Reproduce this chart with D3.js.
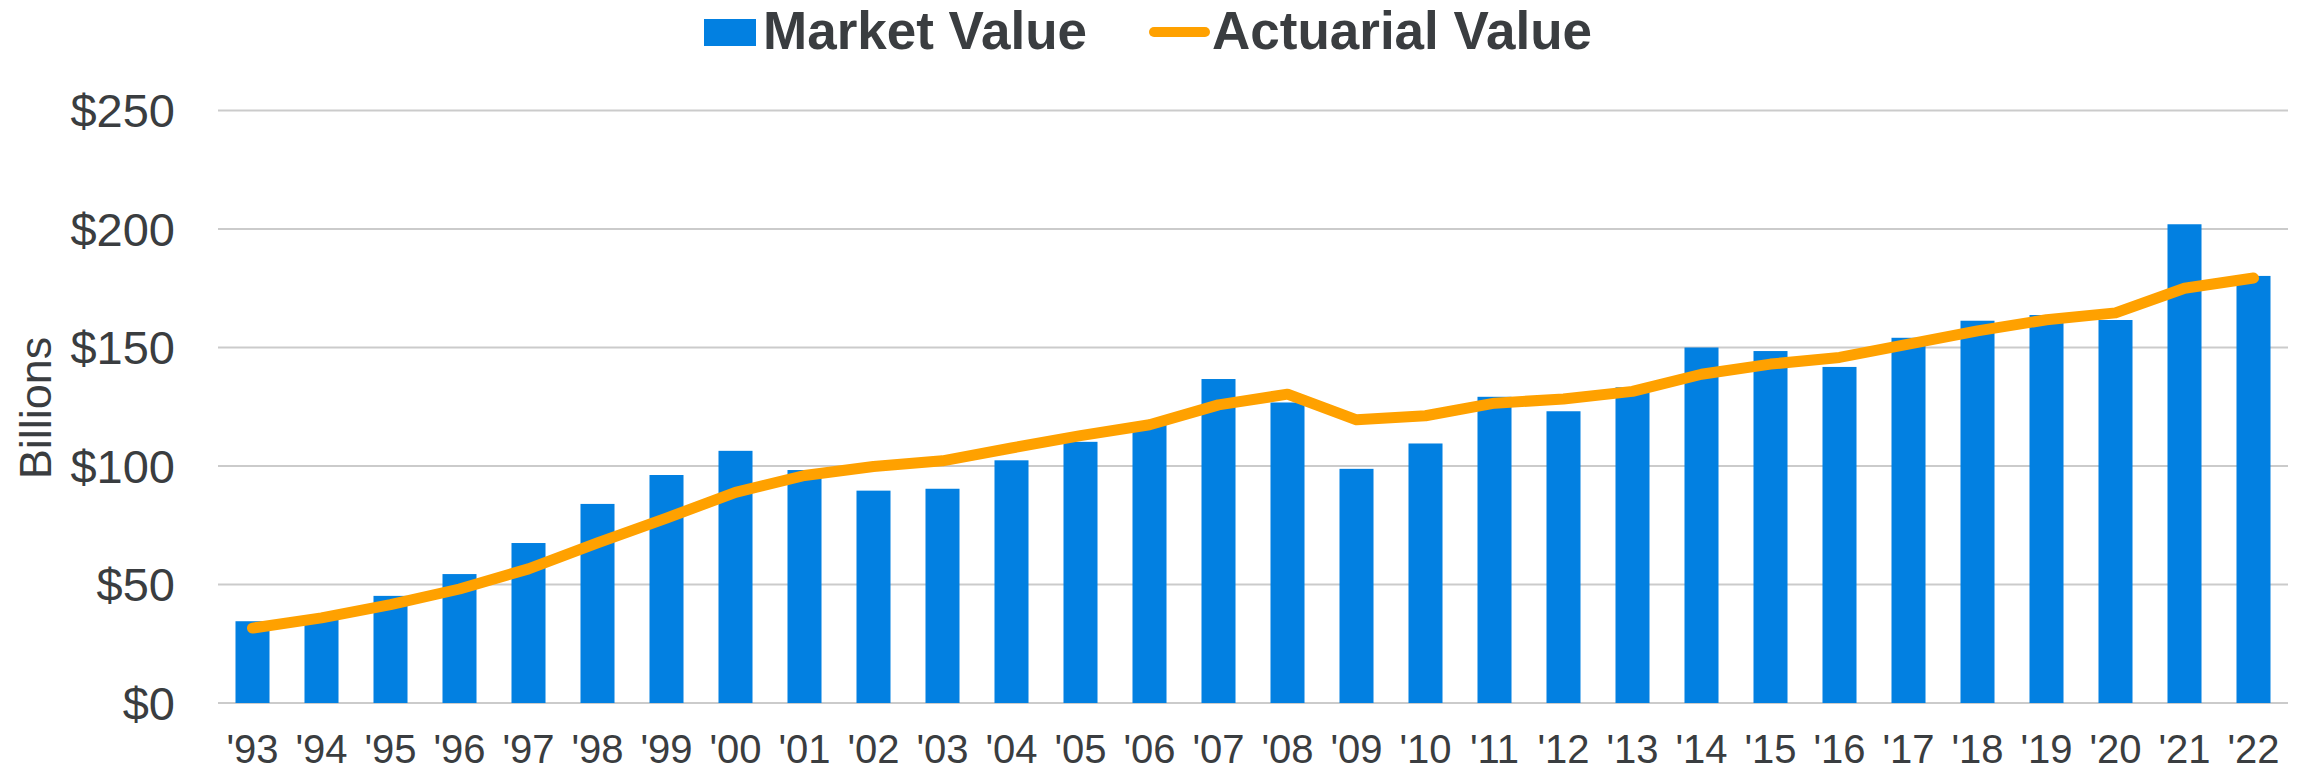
<!DOCTYPE html>
<html>
<head>
<meta charset="utf-8">
<script src="https://cdn.jsdelivr.net/npm/d3@7"></script>
<style>
  html, body { margin: 0; padding: 0; background: #fff; }
  svg { display: block; font-family: "Liberation Sans", Arial, sans-serif; }
</style>
</head>
<body>
<svg id="chart" width="2310" height="772"></svg>
<script>
const years = ["'93","'94","'95","'96","'97","'98","'99","'00","'01","'02","'03","'04","'05","'06","'07","'08","'09","'10","'11","'12","'13","'14","'15","'16","'17","'18","'19","'20","'21","'22"];
const marketValue = [34.5, 36, 45.2, 54.4, 67.5, 84.0, 96.2, 106.4, 98.3, 89.6, 90.4, 102.4, 110.2, 118.5, 136.7, 126.8, 98.8, 109.5, 129.2, 123.1, 133.2, 150.0, 148.5, 141.8, 154.1, 161.3, 163.7, 161.6, 202.0, 180.2];
const actuarialValue = [31.6, 35.9, 41.5, 48.1, 56.6, 67.6, 78.0, 88.9, 96.0, 99.8, 102.2, 107.6, 112.8, 117.4, 125.8, 130.3, 119.5, 121.2, 126.5, 128.3, 131.5, 138.7, 143.0, 145.8, 151.4, 157.0, 161.7, 164.6, 175.0, 179.3];
const yTicks = [0, 50, 100, 150, 200, 250];
const seriesNames = ["Market Value", "Actuarial Value"];

const svg = d3.select("#chart");
const textColor = "#3a3d40";
const barColor = "#0280e1";
const lineColor = "#ffa100";
const gridColor = "#cbcbcb";

const plotLeft = 218, plotRight = 2288, plotTop = 110.5, plotBottom = 703;

const x = d3.scaleBand().domain(years).range([plotLeft, plotRight]).paddingInner(0.507).paddingOuter(0.2535);
const y = d3.scaleLinear().domain([0, 250]).range([plotBottom, plotTop]);

// gridlines
svg.append("g").selectAll("line").data(yTicks).join("line")
  .attr("x1", plotLeft).attr("x2", plotRight)
  .attr("y1", d => y(d)).attr("y2", d => y(d))
  .attr("stroke", gridColor).attr("stroke-width", 2);

// y axis labels
const yAxis = d3.axisLeft(y).tickValues(yTicks).tickFormat(d => "$" + d).tickSize(0).tickPadding(0);
const gy = svg.append("g").attr("transform", `translate(${plotLeft - 43},0)`).call(yAxis);
gy.select(".domain").remove();
gy.selectAll("text").attr("font-size", 47).attr("fill", textColor)
  .attr("font-family", "Liberation Sans, Arial, sans-serif").attr("dy", "0.35em");

// bars
svg.append("g").selectAll("rect").data(marketValue).join("rect")
  .attr("x", (d, i) => x(years[i]))
  .attr("y", d => y(d))
  .attr("width", x.bandwidth())
  .attr("height", d => y(0) - y(d))
  .attr("fill", barColor);

// x axis labels
const xAxis = d3.axisBottom(x).tickSize(0).tickPadding(0);
const gx = svg.append("g").attr("transform", `translate(0,${plotBottom})`).call(xAxis);
gx.select(".domain").remove();
gx.selectAll("text").attr("font-size", 40).attr("fill", textColor)
  .attr("font-family", "Liberation Sans, Arial, sans-serif")
  .attr("y", 60).attr("dy", 0);

// line
const line = d3.line()
  .x((d, i) => x(years[i]) + x.bandwidth() / 2)
  .y(d => y(d));
svg.append("path").datum(actuarialValue)
  .attr("d", line)
  .attr("fill", "none")
  .attr("stroke", lineColor)
  .attr("stroke-width", 11)
  .attr("stroke-linecap", "round")
  .attr("stroke-linejoin", "round");

// y axis title
svg.append("text")
  .attr("transform", "translate(51,408) rotate(-90)")
  .attr("text-anchor", "middle")
  .attr("font-size", 45)
  .attr("fill", textColor)
  .text("Billions");

// legend
const lg = svg.append("g");
lg.append("rect").attr("x", 704).attr("y", 19).attr("width", 52).attr("height", 27).attr("fill", barColor);
lg.append("text").attr("x", 763).attr("y", 49).attr("font-size", 53).attr("font-weight", "bold")
  .attr("fill", textColor).text(seriesNames[0]);
lg.append("line").attr("x1", 1154).attr("x2", 1205).attr("y1", 32).attr("y2", 32)
  .attr("stroke", lineColor).attr("stroke-width", 10).attr("stroke-linecap", "round");
lg.append("text").attr("x", 1212).attr("y", 49).attr("font-size", 53).attr("font-weight", "bold")
  .attr("fill", textColor).text(seriesNames[1]);
</script>
</body>
</html>
